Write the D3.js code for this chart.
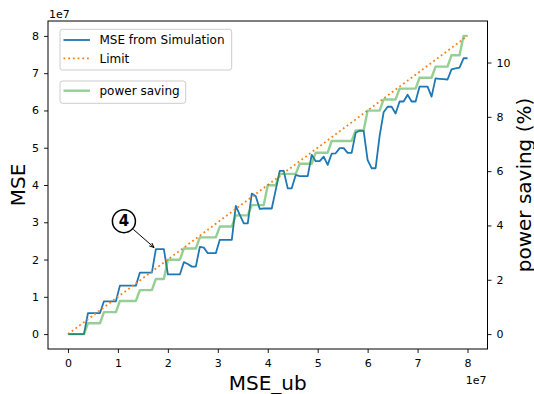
<!DOCTYPE html>
<html><head><meta charset="utf-8">
<script src="https://cdn.jsdelivr.net/npm/d3@7"></script>
<style>body{margin:0;background:#fff}svg{display:block;font-family:"DejaVu Sans",sans-serif}</style>
</head><body><svg id="c" width="534" height="394"></svg>
<script>
// MSE_ub (x), in units of 1e7
const mseUb = [0,0.08,0.16,0.24,0.32,0.4,0.48,0.56,0.64,0.72,0.8,0.88,0.96,1.04,1.12,1.2,1.28,1.36,1.44,1.52,1.6,1.68,1.76,1.84,1.92,2,2.08,2.16,2.24,2.32,2.4,2.48,2.56,2.64,2.72,2.8,2.88,2.96,3.04,3.12,3.2,3.28,3.36,3.44,3.52,3.6,3.68,3.76,3.84,3.92,4,4.08,4.16,4.24,4.32,4.4,4.48,4.56,4.64,4.72,4.8,4.88,4.96,5.04,5.12,5.2,5.28,5.36,5.44,5.52,5.6,5.68,5.76,5.84,5.92,6,6.08,6.16,6.24,6.32,6.4,6.48,6.56,6.64,6.72,6.8,6.88,6.96,7.04,7.12,7.2,7.28,7.36,7.44,7.52,7.6,7.68,7.76,7.84,7.92,8];
// MSE from simulation, units of 1e7
const mseSim = [0,0,0,0,0,0.56,0.56,0.56,0.56,0.88,0.88,0.88,0.88,1.30,1.30,1.30,1.30,1.30,1.65,1.65,1.65,1.65,2.28,2.28,2.28,1.60,1.60,1.60,1.60,1.93,1.88,1.81,1.81,2.34,2.32,2.17,2.17,2.17,2.53,2.53,2.53,2.53,3.44,3.20,2.97,2.97,3.77,3.70,3.36,3.37,3.37,3.37,3.87,4.38,4.38,3.91,3.91,4.27,4.24,4.24,4.24,4.81,4.64,4.64,4.76,4.54,4.84,4.85,4.99,4.99,4.86,4.86,5.40,5.46,5.45,4.67,4.45,4.45,5.32,5.95,6.10,6.10,5.92,6.24,6.24,6.42,6.24,6.24,6.64,6.64,6.64,6.37,6.86,6.85,6.84,6.83,7.10,7.13,7.15,7.40,7.40];
// Limit (MSE = MSE_ub), units of 1e7
const limit = mseUb.slice();
// power saving (%)
const powerSaving = [0,0,0,0,0,0.40,0.40,0.40,0.40,0.81,0.81,0.81,0.81,1.22,1.22,1.22,1.22,1.22,1.62,1.62,1.62,1.62,2.03,2.03,2.03,2.74,2.74,2.74,2.74,3.15,3.15,3.15,3.15,3.56,3.56,3.56,3.56,3.56,3.96,3.96,3.96,3.96,4.37,4.37,4.37,4.37,4.75,4.75,4.75,4.75,5.48,5.48,5.48,5.90,5.90,5.90,5.90,5.90,6.27,6.27,6.27,6.27,6.68,6.68,6.68,6.68,7.11,7.11,7.11,7.11,7.11,7.11,7.50,7.50,7.50,8.23,8.23,8.23,8.23,8.64,8.64,8.64,8.64,9.04,9.04,9.04,9.04,9.04,9.44,9.44,9.44,9.44,9.85,9.85,9.85,9.85,10.27,10.27,10.27,10.98,10.98];
const xTicks = [0,1,2,3,4,5,6,7,8];
const yTicks = [0,1,2,3,4,5,6,7,8];
const y2Ticks = [0,2,4,6,8,10];
const legend1Labels = ["MSE from Simulation","Limit"];
const legend2Labels = ["power saving"];
const annotation = {label:"4", pointIndex:22, textX:1.12, textY:3.03};

const C0="#1f77b4", C1="#ff7f0e", C2="#2ca02c";
const L=48, R=487.5, T=21, B=349;
const pad=(lo,hi)=>{const d=(hi-lo)*0.05;return [lo-d,hi+d];};
const x=d3.scaleLinear().domain(pad(d3.min(mseUb),d3.max(mseUb))).range([L,R]);
const y=d3.scaleLinear().domain(pad(0,d3.max([...mseSim,...limit]))).range([B,T]);
const y2=d3.scaleLinear().domain(pad(d3.min(powerSaving),d3.max(powerSaving))).range([B,T]);
const svg=d3.select("#c");

const clip=svg.append("clipPath").attr("id","pc").append("rect").attr("x",L).attr("y",T).attr("width",R-L).attr("height",B-T);
const g=svg.append("g").attr("clip-path","url(#pc)");
const line=(ys,sc)=>d3.line().x((d,i)=>x(mseUb[i])).y(d=>sc(d))(ys);
g.append("path").attr("d",line(mseSim,y)).attr("fill","none").attr("stroke",C0).attr("stroke-width",1.8).attr("stroke-linejoin","round");
g.append("path").attr("d",line(limit,y)).attr("fill","none").attr("stroke",C1).attr("stroke-width",1.8).attr("stroke-dasharray","1.8,2.9");
g.append("path").attr("d",line(powerSaving,y2)).attr("fill","none").attr("stroke",C2).attr("stroke-opacity",0.5).attr("stroke-width",2.4).attr("stroke-linejoin","round");

function styleAxis(sel){sel.select(".domain").remove();sel.selectAll("text").attr("font-size",11).attr("font-family","DejaVu Sans").attr("fill","#000");sel.selectAll("line").attr("stroke","#000").attr("stroke-width",0.9);}
svg.append("g").attr("transform",`translate(0,${B})`).call(d3.axisBottom(x).tickValues(xTicks).tickSize(4).tickPadding(6).tickFormat(d3.format("d"))).call(styleAxis);
svg.append("g").attr("transform",`translate(${L},0)`).call(d3.axisLeft(y).tickValues(yTicks).tickSize(4).tickPadding(5).tickFormat(d3.format("d"))).call(styleAxis);
svg.append("g").attr("transform",`translate(${R},0)`).call(d3.axisRight(y2).tickValues(y2Ticks).tickSize(4).tickPadding(5).tickFormat(d3.format("d"))).call(styleAxis);
svg.append("rect").attr("x",L).attr("y",T).attr("width",R-L).attr("height",B-T).attr("fill","none").attr("stroke","#000").attr("stroke-width",1);

// offset texts
svg.append("text").attr("x",L+1).attr("y",18).attr("font-size",11).text("1e7");
svg.append("text").attr("x",R-1).attr("y",384).attr("text-anchor","end").attr("font-size",11).text("1e7");
// axis labels
svg.append("text").attr("x",(L+R)/2).attr("y",390).attr("text-anchor","middle").attr("font-size",20).text("MSE_ub");
svg.append("text").attr("transform",`translate(25,${(T+B)/2}) rotate(-90)`).attr("text-anchor","middle").attr("font-size",20).text("MSE");
svg.append("text").attr("transform",`translate(530.5,${(T+B)/2}) rotate(-90)`).attr("text-anchor","middle").attr("font-size",20).text("power saving (%)");

// legends
function legend(x0,y0,w,h,items){
  const lg=svg.append("g");
  lg.append("rect").attr("x",x0).attr("y",y0).attr("width",w).attr("height",h).attr("rx",2.5).attr("fill","#fff").attr("fill-opacity",0.8).attr("stroke","#ccc").attr("stroke-width",1);
  items.forEach(it=>{
    const l=lg.append("line").attr("x1",x0+3.5).attr("x2",x0+30).attr("y1",it.cy).attr("y2",it.cy).attr("stroke",it.color).attr("stroke-width",it.w);
    if(it.dash) l.attr("stroke-dasharray",it.dash);
    if(it.op) l.attr("stroke-opacity",it.op);
    lg.append("text").attr("x",x0+39.5).attr("y",it.cy+4.3).attr("font-size",12).text(it.label);
  });
}
legend(60,29.3,171.7,40.7,[{label:legend1Labels[0],cy:40,color:C0,w:1.8},{label:legend1Labels[1],cy:58.3,color:C1,w:1.8,dash:"1.8,2.9"}]);
legend(60,81,125.7,22.3,[{label:legend2Labels[0],cy:90.7,color:C2,w:2.4,op:0.5}]);

// annotation
const tx=x(annotation.textX), ty=y(annotation.textY);
const px=x(mseUb[annotation.pointIndex]), py=y(mseSim[annotation.pointIndex]);
const ang=Math.atan2(py-ty,px-tx), r=11.5;
const sx=tx+Math.cos(ang)*(r+1), sy=ty+Math.sin(ang)*(r+1);
const ex=px-Math.cos(ang)*2.4, ey=py-Math.sin(ang)*2.4;
svg.append("line").attr("x1",sx).attr("y1",sy).attr("x2",ex).attr("y2",ey).attr("stroke","#000").attr("stroke-width",1);
const hl=5, ha=0.4;
svg.append("path").attr("d",`M${ex-hl*Math.cos(ang-ha)},${ey-hl*Math.sin(ang-ha)}L${ex},${ey}L${ex-hl*Math.cos(ang+ha)},${ey-hl*Math.sin(ang+ha)}`).attr("fill","none").attr("stroke","#000").attr("stroke-width",1);
svg.append("circle").attr("cx",tx).attr("cy",ty).attr("r",r).attr("fill","#fff").attr("stroke","#000").attr("stroke-width",1.5);
svg.append("text").attr("x",tx).attr("y",ty+5.2).attr("text-anchor","middle").attr("font-size",15).attr("font-weight","bold").text(annotation.label);
</script></body></html>
